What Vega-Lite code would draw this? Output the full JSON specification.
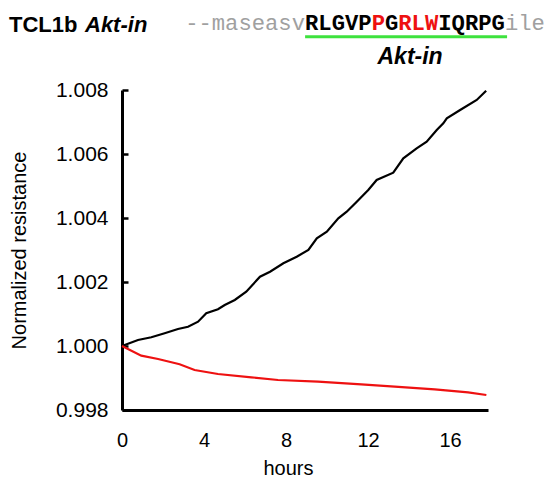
{
  "$schema": "https://vega.github.io/schema/vega-lite/v6.json",
  "width": 366,
  "height": 320,
  "autosize": {"type": "none"},
  "padding": {"left": 122, "top": 90, "right": 61, "bottom": 69},
  "background": "white",
  "config": {
    "view": {"stroke": null},
    "font": "Liberation Sans"
  },
  "datasets": {
    "curves": [
      {"series": "Akt-in", "h": 0, "v": 1.0},
      {"series": "Akt-in", "h": 0.78, "v": 1.000188},
      {"series": "Akt-in", "h": 1.43, "v": 1.000272},
      {"series": "Akt-in", "h": 2.08, "v": 1.000397},
      {"series": "Akt-in", "h": 2.73, "v": 1.000531},
      {"series": "Akt-in", "h": 3.22, "v": 1.000603},
      {"series": "Akt-in", "h": 3.71, "v": 1.000759},
      {"series": "Akt-in", "h": 4.11, "v": 1.001022},
      {"series": "Akt-in", "h": 4.68, "v": 1.001147},
      {"series": "Akt-in", "h": 5.01, "v": 1.001281},
      {"series": "Akt-in", "h": 5.5, "v": 1.001438},
      {"series": "Akt-in", "h": 6.06, "v": 1.001697},
      {"series": "Akt-in", "h": 6.73, "v": 1.002166},
      {"series": "Akt-in", "h": 7.22, "v": 1.002322},
      {"series": "Akt-in", "h": 7.87, "v": 1.002584},
      {"series": "Akt-in", "h": 8.52, "v": 1.002791},
      {"series": "Akt-in", "h": 9.09, "v": 1.003},
      {"series": "Akt-in", "h": 9.5, "v": 1.003366},
      {"series": "Akt-in", "h": 9.99, "v": 1.003572},
      {"series": "Akt-in", "h": 10.55, "v": 1.003991},
      {"series": "Akt-in", "h": 10.96, "v": 1.004197},
      {"series": "Akt-in", "h": 11.45, "v": 1.004509},
      {"series": "Akt-in", "h": 12.01, "v": 1.004875},
      {"series": "Akt-in", "h": 12.42, "v": 1.005188},
      {"series": "Akt-in", "h": 13.23, "v": 1.005416},
      {"series": "Akt-in", "h": 13.72, "v": 1.005866},
      {"series": "Akt-in", "h": 14.37, "v": 1.006178},
      {"series": "Akt-in", "h": 14.86, "v": 1.006384},
      {"series": "Akt-in", "h": 15.35, "v": 1.00675},
      {"series": "Akt-in", "h": 15.67, "v": 1.006959},
      {"series": "Akt-in", "h": 15.84, "v": 1.007116},
      {"series": "Akt-in", "h": 16.49, "v": 1.007375},
      {"series": "Akt-in", "h": 17.3, "v": 1.007688},
      {"series": "Akt-in", "h": 17.76, "v": 1.007978},
      {"series": "control", "h": 0, "v": 1.0},
      {"series": "control", "h": 0.94, "v": 0.999697},
      {"series": "control", "h": 1.76, "v": 0.999594},
      {"series": "control", "h": 2.81, "v": 0.999428},
      {"series": "control", "h": 3.54, "v": 0.99925},
      {"series": "control", "h": 4.68, "v": 0.999125},
      {"series": "control", "h": 6.31, "v": 0.999022},
      {"series": "control", "h": 7.61, "v": 0.998938},
      {"series": "control", "h": 9.56, "v": 0.998884},
      {"series": "control", "h": 11.67, "v": 0.998803},
      {"series": "control", "h": 13.3, "v": 0.998728},
      {"series": "control", "h": 15.25, "v": 0.998647},
      {"series": "control", "h": 16.88, "v": 0.998553},
      {"series": "control", "h": 17.77, "v": 0.998469}
    ],
    "notes": [
      {"part": "title", "text": "TCL1b", "h": -5.512, "v": 1.0098125},
      {"part": "titleItalic", "text": "Akt-in", "h": -1.805, "v": 1.0098125},
      {"part": "seqGray", "text": "--maseasv", "h": 3.079, "v": 1.009875},
      {"part": "seqBlack", "text": "RLGVP", "h": 8.927, "v": 1.009875},
      {"part": "seqRed", "text": "P", "h": 12.176, "v": 1.009875},
      {"part": "seqBlack", "text": "G", "h": 12.826, "v": 1.009875},
      {"part": "seqRed", "text": "RLW", "h": 13.475, "v": 1.009875},
      {"part": "seqBlack", "text": "IQRPG", "h": 15.425, "v": 1.009875},
      {"part": "seqGray", "text": "ile", "h": 18.674, "v": 1.009875},
      {"part": "peptide", "text": "Akt-in", "h": 14.05, "v": 1.0088125},
      {"part": "underline", "text": "", "h": 8.93, "h2": 18.78, "v": 1.0096656}
    ]
  },
  "encoding": {
    "x": {
      "field": "h",
      "type": "quantitative",
      "scale": {"domain": [0, 17.85], "nice": false, "zero": false},
      "axis": {
        "values": [0, 4, 8, 12, 16],
        "title": "hours",
        "titleFont": "Liberation Sans",
        "titleFontSize": 20,
        "titleFontWeight": "normal",
        "titleColor": "black",
        "titleX": 166,
        "titleY": 64,
        "titleBaseline": "alphabetic",
        "labelFont": "Liberation Sans",
        "labelFontSize": 20,
        "labelColor": "black",
        "labelPadding": 20,
        "ticks": false,
        "tickSize": 0,
        "grid": false,
        "domainColor": "black",
        "domainWidth": 3,
        "labelFlush": false
      }
    },
    "y": {
      "field": "v",
      "type": "quantitative",
      "scale": {"domain": [0.998, 1.008], "nice": false, "zero": false},
      "axis": {
        "values": [0.998, 1.0, 1.002, 1.004, 1.006, 1.008],
        "format": ".3f",
        "title": "Normalized resistance",
        "titleFont": "Liberation Sans",
        "titleFontSize": 20,
        "titleFontWeight": "normal",
        "titleColor": "black",
        "titleAngle": -90,
        "titleX": -97,
        "titleY": 160,
        "titleAlign": "center",
        "titleBaseline": "alphabetic",
        "labelFont": "Liberation Sans",
        "labelFontSize": 21,
        "labelColor": "black",
        "labelPadding": 20,
        "tickSize": -6,
        "tickWidth": 2.5,
        "tickColor": "black",
        "grid": false,
        "domainColor": "black",
        "domainWidth": 3,
        "labelFlush": false
      }
    }
  },
  "layer": [
    {
      "data": {"name": "curves"},
      "mark": {"type": "line", "strokeWidth": 2.2, "interpolate": "linear"},
      "encoding": {
        "color": {
          "field": "series",
          "type": "nominal",
          "scale": {"domain": ["Akt-in", "control"], "range": ["#000000", "#ee1111"]},
          "legend": null
        }
      }
    },
    {
      "data": {"name": "notes"},
      "transform": [{"filter": "datum.part === 'underline'"}],
      "mark": {"type": "rule", "stroke": "#3ee23e", "strokeWidth": 3},
      "encoding": {"x2": {"field": "h2"}}
    },
    {
      "data": {"name": "notes"},
      "transform": [{"filter": "datum.part === 'title'"}],
      "mark": {"type": "text", "font": "Liberation Sans", "fontWeight": "bold", "fontSize": 22, "align": "left", "baseline": "alphabetic", "color": "black"},
      "encoding": {"text": {"field": "text"}}
    },
    {
      "data": {"name": "notes"},
      "transform": [{"filter": "datum.part === 'titleItalic'"}],
      "mark": {"type": "text", "font": "Liberation Sans", "fontWeight": "bold", "fontStyle": "italic", "fontSize": 22, "align": "left", "baseline": "alphabetic", "color": "black"},
      "encoding": {"text": {"field": "text"}}
    },
    {
      "data": {"name": "notes"},
      "transform": [{"filter": "datum.part === 'peptide'"}],
      "mark": {"type": "text", "font": "Liberation Sans", "fontWeight": "bold", "fontStyle": "italic", "fontSize": 23, "align": "center", "baseline": "alphabetic", "color": "black"},
      "encoding": {"text": {"field": "text"}}
    },
    {
      "data": {"name": "notes"},
      "transform": [{"filter": "datum.part === 'seqGray'"}],
      "mark": {"type": "text", "font": "Liberation Mono", "fontWeight": "normal", "fontSize": 22.2, "align": "left", "baseline": "alphabetic", "color": "#a0a0a0"},
      "encoding": {"text": {"field": "text"}}
    },
    {
      "data": {"name": "notes"},
      "transform": [{"filter": "datum.part === 'seqBlack'"}],
      "mark": {"type": "text", "font": "Liberation Mono", "fontWeight": "bold", "fontSize": 22.2, "align": "left", "baseline": "alphabetic", "color": "black"},
      "encoding": {"text": {"field": "text"}}
    },
    {
      "data": {"name": "notes"},
      "transform": [{"filter": "datum.part === 'seqRed'"}],
      "mark": {"type": "text", "font": "Liberation Mono", "fontWeight": "bold", "fontSize": 22.2, "align": "left", "baseline": "alphabetic", "color": "#ee1111"},
      "encoding": {"text": {"field": "text"}}
    }
  ]
}
